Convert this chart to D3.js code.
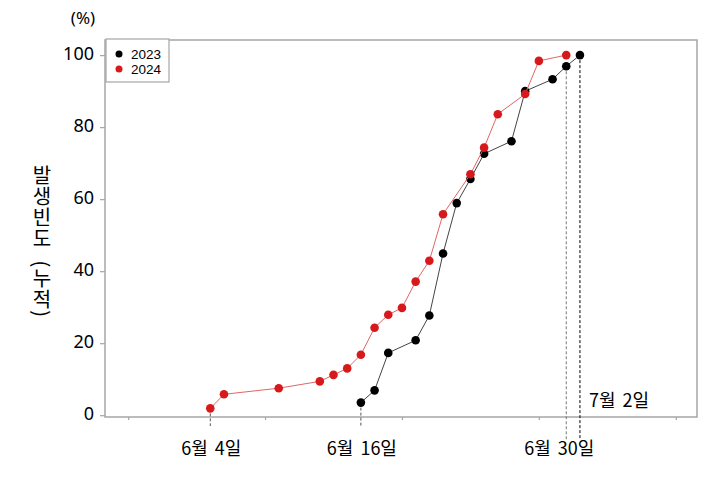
<!DOCTYPE html>
<html>
<head>
<meta charset="utf-8">
<script src="https://cdn.jsdelivr.net/npm/d3@7"></script>
<style>
  html, body { margin: 0; padding: 0; background: #fff; }
  svg { display: block; }
</style>
</head>
<body>
<svg id="chart" width="723" height="479"></svg>
<script>
// ---- data ----
const xDays2024 = [4, 5, 9, 12, 13, 14, 15, 16, 17, 18, 19, 20, 21, 23, 24, 25, 27, 28, 30];
const values2024 = [1.9, 5.8, 7.5, 9.4, 11.2, 13.0, 16.8, 24.3, 27.9, 29.8, 37.1, 42.9, 55.8, 66.9, 74.3, 83.6, 89.2, 98.4, 100];
const xDays2023 = [15, 16, 17, 19, 20, 21, 22, 23, 24, 26, 27, 29, 30, 31];
const values2023 = [3.5, 6.9, 17.3, 20.8, 27.7, 44.9, 58.9, 65.6, 72.6, 76.1, 90.0, 93.3, 96.9, 100];
const seriesNames = ["2023", "2024"];
const yTicks = [0, 20, 40, 60, 80, 100];
const xTicks = [-2, 8, 18, 28, 38];
const annotDays = [4, 15, 30, 31];
const annotValues = [1.9, 3.5, 96.9, 100];
const annotLabels = ["6월 4일", "6월 16일", "6월 30일", "7월 2일"];
const yTitle = "발생빈도 (누적)";
const yUnit = "(%)";

// ---- layout ----
const svg = d3.select("#chart");
const box = { left: 105, right: 697, top: 40, bottom: 417 };
const x = d3.scaleLinear().domain([-3.69, 39.55]).range([box.left, box.right]);
const y = d3.scaleLinear().domain([-0.5, 104.2]).range([box.bottom, box.top]);

const RED = "#d7191c";
const RED_LINE = "#e06666";
const BLACK = "#000";
const BLACK_LINE = "#444";
const GRID = "#a6a6a6";
const fontKR = "'Noto Sans CJK KR', 'Noto Sans', sans-serif";
const fontNum = "'Noto Sans', 'Noto Sans CJK KR', sans-serif";

// plot frame
svg.append("rect")
  .attr("x", box.left).attr("y", box.top)
  .attr("width", box.right - box.left).attr("height", box.bottom - box.top)
  .attr("fill", "none").attr("stroke", GRID).attr("stroke-width", 1.5);

// y axis
const yAxis = d3.axisLeft(y).tickValues(yTicks).tickSize(5).tickPadding(6).tickFormat(d3.format("d"));
const gy = svg.append("g").attr("transform", `translate(${box.left},0)`).call(yAxis);
gy.select(".domain").remove();
gy.selectAll(".tick line").attr("stroke", GRID).attr("stroke-width", 1.2);
gy.selectAll(".tick text")
  .attr("font-family", fontNum).attr("font-size", 18).attr("fill", "#000")
  .attr("dy", "0.22em");

// x axis (unlabeled ticks)
const xAxis = d3.axisBottom(x).tickValues(xTicks).tickSize(3).tickFormat("");
const gx = svg.append("g").attr("transform", `translate(0,${box.bottom})`).call(xAxis);
gx.select(".domain").remove();
gx.selectAll(".tick line").attr("stroke", GRID).attr("stroke-width", 1.2);

// y unit
svg.append("text").attr("x", 83).attr("y", 24).attr("text-anchor", "middle")
  .attr("font-family", fontNum).attr("font-size", 17).attr("fill", "#000").text(yUnit);

// y title (vertical writing)
svg.append("text")
  .attr("x", 42).attr("y", 165)
  .attr("font-family", fontKR).attr("font-size", 20).attr("fill", "#000")
  .style("writing-mode", "vertical-rl")
  .style("text-orientation", "mixed")
  .style("letter-spacing", "1px")
  .style("word-spacing", "6px")
  .text(yTitle);

// annotation dashed lines
const dashBottoms = [426, 426, 440, 440];
const dashColors = ["#555", "#555", "#777", "#000"];
annotDays.forEach((d, i) => {
  svg.append("line")
    .attr("x1", x(d)).attr("x2", x(d))
    .attr("y1", y(annotValues[i])).attr("y2", dashBottoms[i])
    .attr("stroke", dashColors[i]).attr("stroke-width", 1)
    .attr("stroke-dasharray", "3,2");
});

// series
const data2023 = xDays2023.map((d, i) => ({ d, v: values2023[i] }));
const data2024 = xDays2024.map((d, i) => ({ d, v: values2024[i] }));
const line = d3.line().x(p => x(p.d)).y(p => y(p.v));

function drawSeries(data, lineColor, dotColor) {
  svg.append("path").datum(data).attr("d", line)
    .attr("fill", "none").attr("stroke", lineColor).attr("stroke-width", 1);
  svg.append("g").selectAll("circle").data(data).join("circle")
    .attr("cx", p => x(p.d)).attr("cy", p => y(p.v)).attr("r", 4.3)
    .attr("fill", dotColor);
}
drawSeries(data2023, BLACK_LINE, BLACK);
drawSeries(data2024, RED_LINE, RED);

// annotation labels
const labelPos = [
  { dx: 1, y: 455, anchor: "middle" },
  { dx: 1, y: 455, anchor: "middle" },
  { dx: -7, y: 455, anchor: "middle" },
  { dx: 9, y: 407, anchor: "start" }
];
annotLabels.forEach((t, i) => {
  svg.append("text")
    .attr("x", x(annotDays[i]) + labelPos[i].dx).attr("y", labelPos[i].y)
    .attr("text-anchor", labelPos[i].anchor)
    .attr("font-family", fontKR).attr("font-size", 18).attr("fill", "#000")
    .style("word-spacing", "3px")
    .text(t);
});

// legend
const lg = svg.append("g");
lg.append("rect").attr("x", 106).attr("y", 39).attr("width", 63).attr("height", 43)
  .attr("fill", "#fff").attr("stroke", GRID).attr("stroke-width", 1.2);
const legendColors = [BLACK, RED];
seriesNames.forEach((n, i) => {
  lg.append("circle").attr("cx", 119).attr("cy", 54 + i * 15).attr("r", 3.5).attr("fill", legendColors[i]);
  lg.append("text").attr("x", 131).attr("y", 59 + i * 15)
    .attr("font-family", "'Liberation Sans', Arial, sans-serif").attr("font-size", 13.5)
    .attr("fill", "#000").text(n);
});
</script>
</body>
</html>
